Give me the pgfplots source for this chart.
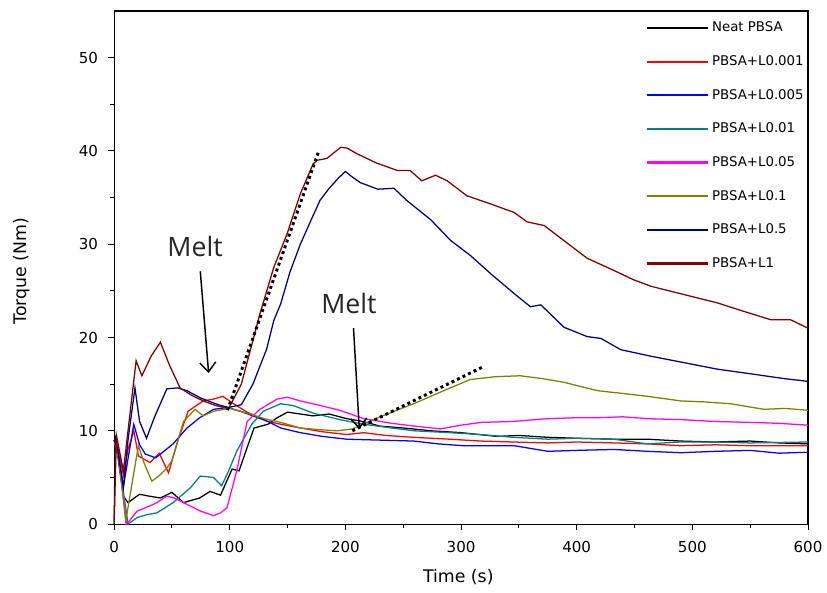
\documentclass[border=0pt]{standalone}
\usepackage{pgfplots}
\pgfplotsset{compat=1.18}
\usepackage{fontspec}
\setmainfont{DejaVu Sans}
\newfontfamily\meltfont{Open Sans}
\usetikzlibrary{arrows.meta}

\definecolor{cteal}{RGB}{0,128,128}
\definecolor{colive}{RGB}{128,128,0}
\definecolor{cnavy}{RGB}{0,0,128}
\definecolor{cdred}{RGB}{128,0,0}
\definecolor{cmag}{RGB}{255,0,255}

\begin{document}
\begin{tikzpicture}
\begin{axis}[
  width=520pt, height=384.5pt, scale only axis,
  xmin=0, xmax=600, ymin=0, ymax=55,
  xtick={0,100,...,600}, ytick={0,10,...,50},
  minor x tick num=1, minor y tick num=1,
  tick align=outside, tick pos=left,
  major tick length=4.5pt, minor tick length=3pt,
  every tick/.style={black, line width=0.7pt},
  axis line style={line width=0.8pt},
  tick label style={font=\fontsize{11.3}{13}\selectfont},
  xticklabel style={yshift=-5pt},
  yticklabel style={xshift=-4pt},
  /pgf/number format/assume math mode=true,
  xlabel={Time (s)}, ylabel={Torque (Nm)},
  label style={font=\fontsize{13}{15}\selectfont},
  xlabel style={at={(axis description cs:0.496,-0.103)}, anchor=center},
  ylabel style={at={(axis description cs:-0.1335,0.493)}, anchor=center},
  legend style={draw=none, fill=none, at={(axis description cs:1,0.987)}, anchor=north east,
    font=\fontsize{10}{12}\selectfont, row sep=12.3pt, inner sep=1pt},
  legend cell align=left,
  legend image code/.code={\draw[#1, line width=1.6pt, line cap=butt] (0pt,0pt) -- (46pt,0pt);},
  clip=false,
  every axis plot/.append style={line width=0.95pt},
]
% Neat PBSA
\addplot[color=black] coordinates {
(0,0)(1,9.5)(4,6.5)(8,3)(12,2.3)(22,3.2)(30,3.0)(40,2.8)(50,3.4)(60,2.3)(74,2.8)(83,3.5)(92,3.1)
(102,5.9)(108,5.7)(115,8.2)(121,10.3)(133,10.7)(141,11.4)(150,12.0)(161,11.8)(172,11.6)(186,11.8)
(201,11.3)(215,11.0)(230,10.5)(250,10.3)(274,10.0)(300,9.8)(331,9.4)(350,9.5)(375,9.3)(400,9.2)
(432,9.1)(461,9.1)(490,8.9)(519,8.8)(550,8.9)(575,8.7)(600,8.6)};
% L0.001
\addplot[color=red] coordinates {
(0,9)(3,8.5)(8,5.2)(12,8)(17,10)(21,7.3)(31,6.6)(39,7.6)(47,5.5)(55,8.9)(64,12.1)(77,13.2)(86,13.4)
(94,13.7)(102,13.0)(115,12.0)(133,11.0)(144,10.7)(161,10.3)(180,9.9)(201,9.6)(216,9.8)(235,9.5)
(259,9.3)(290,9.1)(317,8.9)(345,8.8)(375,8.7)(400,8.8)(432,8.7)(461,8.6)(490,8.4)(520,8.5)(550,8.4)(600,8.4)};
% L0.005
\addplot[color=blue] coordinates {
(0,9)(3,8)(8,4)(12,7)(17,10.7)(22,8.5)(27,7.5)(36,7.1)(43,7.8)(51,8.6)(63,10.3)(74,11.4)(86,12.3)
(98,12.5)(109,12.1)(120,11.6)(133,11.0)(144,10.3)(161,9.8)(180,9.4)(201,9.1)(230,9.0)(259,8.9)
(280,8.6)(302,8.4)(346,8.4)(375,7.8)(400,7.9)(432,8.0)(461,7.8)(490,7.65)(520,7.8)(550,7.9)(575,7.6)(600,7.7)};
% L0.01
\addplot[color=cteal] coordinates {
(0,9)(4,7)(12,0)(20,0.7)(28,1.0)(37,1.2)(51,2.3)(66,3.9)(74.5,5.15)(86,5.0)(93,4.1)(99,5.7)(106,7.8)
(119,10.7)(129,12.1)(144,12.9)(155,12.7)(172,11.9)(195,11.2)(216,10.7)(240,10.3)(259,10.0)(290,9.8)
(317,9.6)(345,9.3)(375,9.1)(400,9.2)(432,9.1)(461,8.6)(490,8.8)(519,8.8)(550,8.7)(600,8.8)};
% L0.05
\addplot[color=cmag] coordinates {
(0,9)(4,7)(11,0)(20,1.4)(30,1.9)(37,2.3)(45.6,3.0)(52,2.8)(60,2.3)(74.5,1.4)(86,0.9)(92,1.2)(97.6,1.75)
(106,5.7)(115,11.0)(126,12.3)(141,13.4)(150,13.6)(161,13.2)(172,12.9)(195,12.2)(216,11.3)(240,10.8)
(260,10.5)(282,10.2)(300,10.6)(317,10.9)(345,11.0)(375,11.3)(400,11.4)(418,11.4)(440,11.5)(461,11.3)
(490,11.2)(519,11.0)(550,10.9)(575,10.8)(600,10.6)};
% L0.1
\addplot[color=colive] coordinates {
(0,9)(4,7)(10,0.3)(15,4)(21,8.4)(26,6.5)(32.6,4.6)(40,5.3)(45.6,6.0)(50,6.8)(60,11.0)(70,12.3)(77,11.6)
(86,12.1)(100,12.4)(115,11.9)(130,11.3)(144,10.9)(161,10.3)(180,10.1)(193,10.0)(206,10.2)(230,11.5)
(259,12.9)(285,14.3)(308,15.5)(330,15.8)(351,15.9)(370,15.6)(389,15.2)(418,14.3)(440,14.0)(461,13.7)
(490,13.2)(510,13.1)(533,12.9)(562,12.3)(580,12.4)(600,12.2)};
% L0.5
\addplot[color=cnavy] coordinates {
(0,9)(3,8)(8,3.9)(12,9)(18,14.6)(22,11)(28,9.2)(35,11.5)(45.6,14.5)(55,14.6)(63,14.3)(75,13.5)(90,12.8)
(99,12.5)(110,12.8)(120,15)(132,18.8)(138,21.8)(144,23.6)(152,27)(161,30)(170,32.5)(178,34.7)(186,36)
(194,37.1)(200,37.8)(206,37.2)(213,36.6)(228,35.9)(242,36.0)(253,34.7)(274,32.6)(291,30.4)(308,28.8)
(326,26.8)(346,24.7)(360,23.3)(369,23.5)(389,21.1)(409,20.1)(421,19.9)(438,18.7)(464,18.0)(493,17.3)
(522,16.6)(551,16.1)(579,15.6)(600,15.3)};
% L1
\addplot[color=cdred] coordinates {
(0,0)(2,9.5)(8,5.7)(19,17.5)(24,15.9)(32,18)(40,19.5)(48,17)(57,14.6)(67,13.8)(77,13.2)(88,12.7)(99,12.4)
(110,15)(126,22.5)(138,27.5)(149.5,31.1)(161,35.4)(172,38.6)(175.5,39.0)(184,39.2)(196,40.4)(201.5,40.3)
(210,39.7)(227,38.7)(245,37.9)(256,37.9)(266,36.8)(278,37.4)(288,36.8)(305,35.2)(326,34.3)(346,33.4)
(357,32.4)(372,32.0)(392,30.1)(409,28.5)(432,27.2)(449,26.2)(464,25.5)(493,24.6)(522,23.7)(542,22.9)
(568,21.9)(585,21.9)(600,21.0)};
\legend{Neat PBSA,PBSA+L0.001,PBSA+L0.005,PBSA+L0.01,PBSA+L0.05,PBSA+L0.1,PBSA+L0.5,PBSA+L1}
% annotations
\draw[black, line width=2.2pt, dash pattern=on 2.2pt off 2.4pt] (axis cs:98,12.2) -- (axis cs:177,40);
\draw[black, line width=2.2pt, dash pattern=on 2.2pt off 2.4pt] (axis cs:206,10) -- (axis cs:318,16.8);
\draw[black, line width=1.1pt, -{Straight Barb[length=7pt,width=12pt]}] (axis cs:74.5,27.1) -- (axis cs:81.7,16.2);
\draw[black, line width=1.1pt, -{Straight Barb[length=7pt,width=12pt]}] (axis cs:207,21) -- (axis cs:212,10.2);
\node[font=\meltfont\fontsize{20}{22}\selectfont, text=black!85] at (axis cs:70,29.8) {Melt};
\node[font=\meltfont\fontsize{20}{22}\selectfont, text=black!85] at (axis cs:203,23.7) {Melt};
\path (rel axis cs:-0.1645,-0.1326) rectangle (rel axis cs:1.0274,1.0215);
\end{axis}
\end{tikzpicture}
\end{document}
